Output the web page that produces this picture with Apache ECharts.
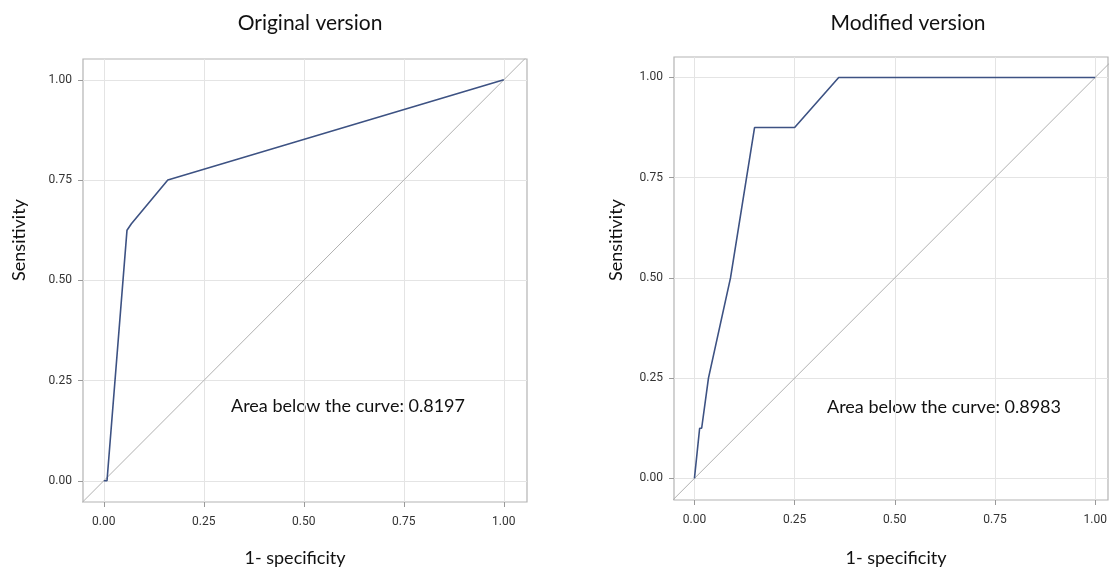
<!DOCTYPE html>
<html>
<head>
<meta charset="utf-8">
<script src="https://cdn.jsdelivr.net/npm/echarts@6/dist/echarts.min.js"></script>
<style>
html,body{margin:0;padding:0;background:#fff;}
#chart{width:1116px;height:574px;}
</style>
</head>
<body>
<div id="chart"></div>
<script>
// ---- data ----
const titles = ['Original version', 'Modified version'];
const aucTexts = ['Area below the curve: 0.8197', 'Area below the curve: 0.8983'];
const xAxisName = '1- specificity';
const yAxisName = 'Sensitivity';
const tickValues = [0, 0.25, 0.5, 0.75, 1];

const origFPR = [0, 0.008, 0.058, 0.069, 0.16, 1];
const origTPR = [0, 0, 0.625, 0.641, 0.75, 1];

const modFPR = [0, 0.013, 0.018, 0.035, 0.09, 0.15, 0.25, 0.36, 1];
const modTPR = [0, 0.125, 0.125, 0.25, 0.5, 0.875, 0.875, 1, 1];

const refLine = [-0.2, 1.2]; // chance diagonal y = x

// ---- build ----
const zip = (a, b) => a.map((v, i) => [v, b[i]]);
const tickFont = "Roboto, sans-serif";
const textFont = "Lato, 'Open Sans', sans-serif";

// outer (frame) grids
const frames = [
  {left: 83, top: 59, width: 444, height: 443},
  {left: 674, top: 57, width: 434, height: 443}
];
const xRanges = [[-0.052, 1.058], [-0.051, 1.032]];
const yRanges = [[-0.053, 1.052], [-0.054, 1.051]];

// inner grids covering exactly 0..1 (used for ticks & labels), derived from the frames
const inner = frames.map((f, i) => {
  const sx = f.width / (xRanges[i][1] - xRanges[i][0]);
  const sy = f.height / (yRanges[i][1] - yRanges[i][0]);
  const x0 = f.left - xRanges[i][0] * sx;
  const y0 = f.top + f.height + yRanges[i][0] * sy;
  return {left: x0, top: y0 - sy, width: sx, height: sy,
          offX: (f.top + f.height) - y0, offY: x0 - f.left};
});

function outerAxis(i, ranges) {
  return {
    type: 'value', gridIndex: i, min: ranges[i][0], max: ranges[i][1],
    axisLine: {show: false, onZero: false},
    axisTick: {show: false, customValues: tickValues},
    axisLabel: {show: false, customValues: tickValues},
    splitLine: {show: true, lineStyle: {color: '#e4e4e4', width: 1}}
  };
}
function innerAxis(i, offset, margin) {
  return {
    type: 'value', gridIndex: i + 2, min: 0, max: 1, interval: 0.25, offset: offset,
    axisLine: {show: false, onZero: false},
    axisTick: {show: true, inside: false, length: 5, lineStyle: {color: '#999999', width: 1}},
    axisLabel: {formatter: v => v.toFixed(2), fontFamily: tickFont, fontSize: 12, color: '#333', margin: margin},
    splitLine: {show: false}
  };
}

const option = {
  animation: false,
  grid: frames.map(g => Object.assign({show: true, borderColor: '#b4b4b4', borderWidth: 1.2, backgroundColor: 'transparent'}, g))
    .concat(inner.map(g => ({left: g.left, top: g.top, width: g.width, height: g.height, show: false}))),
  xAxis: [outerAxis(0, xRanges), outerAxis(1, xRanges), innerAxis(0, inner[0].offX, 14), innerAxis(1, inner[1].offX, 14)],
  yAxis: [outerAxis(0, yRanges), outerAxis(1, yRanges), innerAxis(0, inner[0].offY, 11), innerAxis(1, inner[1].offY, 11)],
  series: [
    {type: 'line', xAxisIndex: 0, yAxisIndex: 0, data: zip(refLine, refLine), symbol: 'none', clip: true,
     lineStyle: {color: '#b0b0b0', width: 1}},
    {type: 'line', xAxisIndex: 1, yAxisIndex: 1, data: zip(refLine, refLine), symbol: 'none', clip: true,
     lineStyle: {color: '#b0b0b0', width: 1}},
    {type: 'line', xAxisIndex: 0, yAxisIndex: 0, data: zip(origFPR, origTPR), symbol: 'none',
     lineStyle: {color: '#3d5283', width: 1.6}},
    {type: 'line', xAxisIndex: 1, yAxisIndex: 1, data: zip(modFPR, modTPR), symbol: 'none',
     lineStyle: {color: '#3d5283', width: 1.6}}
  ],
  graphic: [
    {type: 'text', x: 310, y: 23, style: {text: titles[0], font: '21px ' + textFont, fill: '#111', align: 'center', verticalAlign: 'middle'}},
    {type: 'text', x: 908, y: 23, style: {text: titles[1], font: '21px ' + textFont, fill: '#111', align: 'center', verticalAlign: 'middle'}},
    {type: 'text', x: 295, y: 558, style: {text: xAxisName, font: '18px ' + textFont, fill: '#111', align: 'center', verticalAlign: 'middle'}},
    {type: 'text', x: 896, y: 558, style: {text: xAxisName, font: '18px ' + textFont, fill: '#111', align: 'center', verticalAlign: 'middle'}},
    {type: 'text', x: 19, y: 240, rotation: Math.PI / 2, style: {text: yAxisName, font: '18px ' + textFont, fill: '#111', align: 'center', verticalAlign: 'middle'}},
    {type: 'text', x: 616, y: 240, rotation: Math.PI / 2, style: {text: yAxisName, font: '18px ' + textFont, fill: '#111', align: 'center', verticalAlign: 'middle'}},
    {type: 'text', x: 348, y: 406, style: {text: aucTexts[0], font: '18px ' + textFont, fill: '#111', align: 'center', verticalAlign: 'middle'}},
    {type: 'text', x: 944, y: 407, style: {text: aucTexts[1], font: '18px ' + textFont, fill: '#111', align: 'center', verticalAlign: 'middle'}}
  ]
};

const chart = echarts.init(document.getElementById('chart'), null, {renderer: 'canvas'});
chart.setOption(option);
</script>
</body>
</html>
